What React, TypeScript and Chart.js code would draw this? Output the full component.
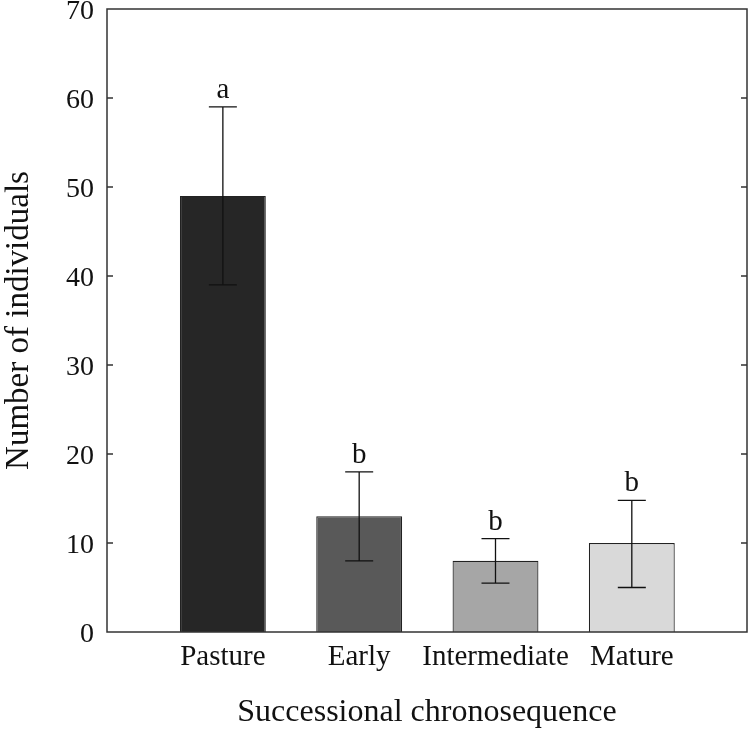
import React, { useEffect, useRef } from "react";
import { Chart, registerables } from "chart.js";

Chart.register(...registerables);

const categories = ["Pasture", "Early", "Intermediate", "Mature"];
const means = [49, 13, 8, 10];
const errLow = [39, 8, 5.5, 5];
const errHigh = [59, 18, 10.5, 14.8];
const letters = ["a", "b", "b", "b"];
const barColors = ["#262626", "#595959", "#a6a6a6", "#d9d9d9"];
const yTicks = [0, 10, 20, 30, 40, 50, 60, 70];

const FONT = "'Liberation Serif', 'Times New Roman', serif";

const framePlugin = {
  id: "frameAndErrors",
  afterDatasetsDraw(chart: any) {
    const { ctx, chartArea, scales } = chart;
    const x = scales.x;
    const y = scales.y;
    ctx.save();
    ctx.strokeStyle = "#111";
    ctx.lineWidth = 1.3;
    const capHalf = 14;
    for (let i = 0; i < means.length; i++) {
      const px = x.getPixelForValue(i);
      const lo = y.getPixelForValue(errLow[i]);
      const hi = y.getPixelForValue(errHigh[i]);
      ctx.beginPath();
      ctx.moveTo(px, lo);
      ctx.lineTo(px, hi);
      ctx.moveTo(px - capHalf, lo);
      ctx.lineTo(px + capHalf, lo);
      ctx.moveTo(px - capHalf, hi);
      ctx.lineTo(px + capHalf, hi);
      ctx.stroke();
      ctx.fillStyle = "#111";
      ctx.font = `29px ${FONT}`;
      ctx.textAlign = "center";
      ctx.textBaseline = "alphabetic";
      ctx.fillText(letters[i], px, hi - 9);
    }
    ctx.strokeStyle = "#333";
    ctx.lineWidth = 1.5;
    ctx.strokeRect(chartArea.left, chartArea.top, chartArea.right - chartArea.left, chartArea.bottom - chartArea.top);
    ctx.lineWidth = 1.3;
    for (const v of yTicks) {
      if (v === 0 || v === 70) continue;
      const py = y.getPixelForValue(v);
      ctx.beginPath();
      ctx.moveTo(chartArea.left, py);
      ctx.lineTo(chartArea.left + 6, py);
      ctx.moveTo(chartArea.right, py);
      ctx.lineTo(chartArea.right - 6, py);
      ctx.stroke();
    }
    ctx.restore();
  },
};

export default function App() {
  const ref = useRef<HTMLCanvasElement | null>(null);
  useEffect(() => {
    document.body.style.margin = "0";
    const canvas = ref.current;
    if (!canvas) return;
    const chart = new Chart(canvas, {
      type: "bar",
      data: {
        datasets: [
          {
            data: means.map((v, i) => ({ x: i, y: v })),
            backgroundColor: barColors,
            borderColor: "#222",
            borderWidth: 1.2,
            barPercentage: 0.63,
            categoryPercentage: 1,
          },
        ],
      },
      options: {
        animation: false,
        responsive: false,
        maintainAspectRatio: false,
        layout: { padding: { top: 9, right: 3, left: 0, bottom: 0 } },
        plugins: { legend: { display: false }, tooltip: { enabled: false } },
        scales: {
          x: {
            type: "linear",
            offset: false,
            min: -0.85,
            max: 3.845,
            grid: { display: false, drawTicks: false },
            border: { display: false },
            afterBuildTicks: (scale: any) => {
              scale.ticks = categories.map((_, i) => ({ value: i }));
            },
            ticks: {
              autoSkip: false,
              maxRotation: 0,
              padding: 8,
              color: "#111",
              font: { family: FONT, size: 29 },
              callback: (v: any) => categories[v as number] ?? "",
            },
            title: {
              display: true,
              text: "Successional chronosequence",
              color: "#111",
              font: { family: FONT, size: 32 },
              padding: { top: 0, bottom: 2 },
            },
            afterFit: (scale: any) => {
              scale.height = 102;
              scale.paddingLeft = 0;
              scale.paddingRight = 0;
            },
          },
          y: {
            min: 0,
            max: 70,
            grid: { display: false, drawTicks: false },
            border: { display: false },
            afterBuildTicks: (scale: any) => {
              scale.ticks = yTicks.map((v) => ({ value: v }));
            },
            ticks: {
              padding: 13,
              labelOffset: 3,
              color: "#111",
              font: { family: FONT, size: 28 },
            },
            title: {
              display: true,
              text: "Number of individuals",
              color: "#111",
              font: { family: FONT, size: 33 },
              padding: { top: 0, bottom: 0 },
            },
            afterFit: (scale: any) => {
              scale.width = 107;
              scale.paddingTop = 0;
              scale.paddingBottom = 0;
            },
          },
        },
      },
      plugins: [framePlugin],
    });
    return () => chart.destroy();
  }, []);
  return (
    <div style={{ position: "fixed", left: 0, top: 0, width: 750, height: 734 }}>
      <canvas ref={ref} width={750} height={734} style={{ width: 750, height: 734 }} />
    </div>
  );
}
